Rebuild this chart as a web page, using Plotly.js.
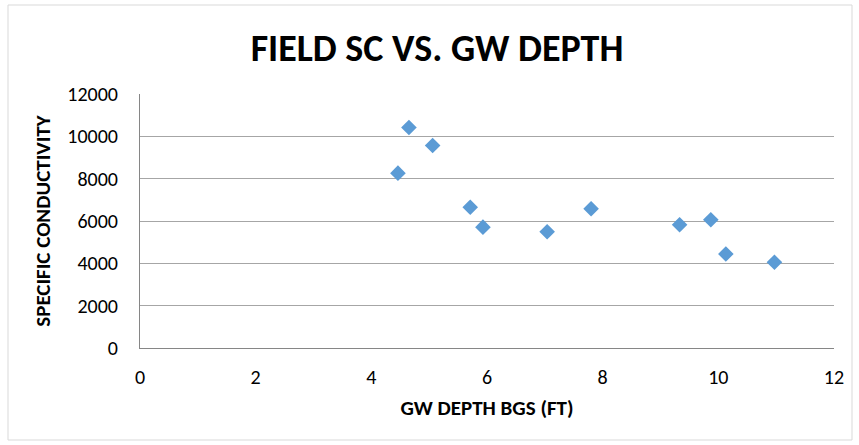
<!DOCTYPE html>
<html>
<head>
<meta charset="utf-8">
<script src="https://cdn.plot.ly/plotly-3.0.1.min.js"></script>
<style>html,body{margin:0;padding:0;background:#fff;}#chart{width:859px;height:445px;}</style>
</head>
<body>
<div id="chart"></div>
<script>
var gwDepth = [4.46, 4.65, 5.06, 5.71, 5.93, 7.04, 7.80, 9.33, 9.87, 10.13, 10.97];
var specificConductivity = [8260, 10420, 9570, 6650, 5710, 5490, 6580, 5820, 6060, 4440, 4050];
var xTicks = [0, 2, 4, 6, 8, 10, 12];
var yTicks = [0, 2000, 4000, 6000, 8000, 10000, 12000];

var font = "Carlito, Calibri, Lato, 'Open Sans', sans-serif";

var trace = {
  x: gwDepth,
  y: specificConductivity,
  type: 'scatter',
  mode: 'markers',
  marker: {symbol: 'diamond', size: 12, color: '#5B9BD5', line: {width: 0}},
  showlegend: false,
  hoverinfo: 'none'
};

var layout = {
  width: 859,
  height: 445,
  margin: {l: 140, r: 25, t: 94, b: 97},
  paper_bgcolor: '#ffffff',
  plot_bgcolor: '#ffffff',
  title: {
    text: '<b>FIELD SC VS. GW DEPTH</b>',
    font: {family: font, size: 38, color: '#000000'},
    x: 437/859, xref: 'container', xanchor: 'center',
    y: 0.892, yref: 'container', yanchor: 'middle'
  },
  xaxis: {
    range: [0, 12],
    tickvals: xTicks,
    ticktext: xTicks.map(String),
    showgrid: false,
    zeroline: false,
    showline: true,
    linecolor: '#868686',
    linewidth: 1,
    ticks: '',
    ticklabelstandoff: 11,
    tickfont: {family: font, size: 20, color: '#000000'},
    title: {text: '<b>GW DEPTH BGS (FT)</b>', font: {family: font, size: 21, color: '#000000'}, standoff: 12}
  },
  yaxis: {
    range: [0, 12000],
    tickvals: yTicks,
    ticktext: yTicks.map(String),
    showgrid: true,
    gridcolor: '#A6A6A6',
    gridwidth: 1,
    zeroline: false,
    showline: true,
    linecolor: '#868686',
    linewidth: 1,
    ticks: '',
    ticklabelstandoff: 17,
    tickfont: {family: font, size: 20, color: '#000000'},
    title: {text: '<b>SPECIFIC CONDUCTIVITY</b>', font: {family: font, size: 21, color: '#000000'}, standoff: 10}
  },
  shapes: [{
    type: 'rect', xref: 'paper', yref: 'paper',
    x0: -132/694, x1: 1 + 18/694, y0: -92/254, y1: 1 + 89/254,
    line: {color: '#D9D9D9', width: 1}
  }]
};

Plotly.newPlot('chart', [trace], layout, {displayModeBar: false, staticPlot: true});
</script>
</body>
</html>
